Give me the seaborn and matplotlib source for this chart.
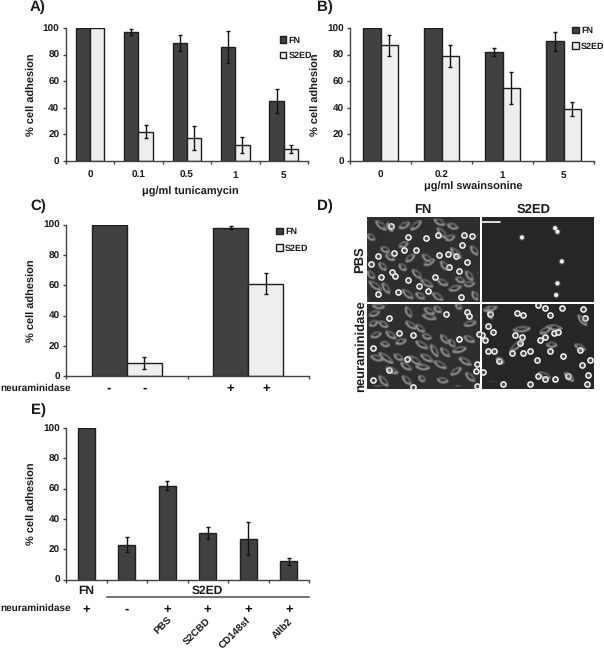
import numpy as np
import pandas as pd
import seaborn as sns
import matplotlib
matplotlib.use("Agg")
import matplotlib.pyplot as plt
from matplotlib.collections import PolyCollection, LineCollection
from matplotlib.patches import Patch

sns.set_theme(style="white")
plt.rcParams['font.family'] = ['Liberation Sans', 'DejaVu Sans']
plt.rcParams['font.weight'] = 'bold'
plt.rcParams['axes.labelweight'] = 'bold'
plt.rcParams['text.hinting'] = 'no_hinting'
plt.rcParams['text.hinting_factor'] = 1

W, H = 604, 650
DARK = '#414141'
LIGHT = '#eeeeee'
EDGE = '#1e1e1e'
AXC = '#444444'
series_names = ['FN', 'S2ED']

# Panel A
a_cats = ['0', '0.1', '0.5', '1', '5']
a_fn = [100, 97, 89, 86, 45]
a_fn_err = [0, 2, 6, 12, 9]
a_s2 = [100, 22, 17, 12, 9]
a_s2_err = [0, 5, 9, 6, 3]
# Panel B
b_cats = ['0', '0.2', '1', '5']
b_fn = [100, 100, 82, 90]
b_fn_err = [0, 0, 3, 7]
b_s2 = [87, 79, 55, 39]
b_s2_err = [8, 8, 12, 5]
# Panel C
c_cats = ['no', 'yes']
c_signs = ['-', '-', '+', '+']
c_fn = [100, 98]
c_fn_err = [0, 1]
c_s2 = [9, 61]
c_s2_err = [4, 7]
# Panel E
e_cats = ['FN', 'none', 'PBS', 'S2CBD', 'CD148sf', 'AIIb2']
e_signs = ['+', '-', '+', '+', '+', '+']
e_vals = [100, 23, 62, 31, 27, 12]
e_errs = [0, 5, 3, 4, 11, 2]
e_names = ['PBS', 'S2CBD', 'CD148sf', 'AIIb2']
yticks_vals = [0, 20, 40, 60, 80, 100]

# Panel D: cells
d1_rings = [(180,70),(125,68),(85,115),(35,125),(15,148),(78,172),(88,182),(125,195),(158,212),(185,228),(95,232),(35,237),(208,185),(150,105),(220,120),(270,125),(250,158),(278,168),(303,143),(287,90),(295,60),(318,65),(285,245),(245,118),(115,105),(75,35),(215,60),(45,185)]
d1_streaks = [(30,20,60,45),(65,25,80,50),(100,40,130,25),(135,45,165,20),(205,15,235,30),(215,40,240,70),(245,30,275,40),(240,75,265,65),(100,95,125,85),(5,60,25,75),(60,120,85,135),(120,140,145,120),(170,120,195,140),(175,150,205,135),(225,140,245,165),(215,195,245,210),(255,100,285,130),(315,95,335,120),(300,170,320,195),(295,210,325,205),(10,200,45,225),(50,205,70,235),(110,225,140,250),(165,195,200,215),(200,235,230,255),(250,225,285,215),(5,170,25,190),(140,165,165,190),(100,150,120,165),(320,230,335,255),(45,100,70,110),(150,235,175,250),(270,190,295,200),(40,145,60,165)]
d2_rings = [(70,47),(240,37),(303,30),(310,42),(280,113),(140,100),(20,140),(122,172),(70,205),(20,238),(332,188),(330,210),(333,255),(140,258),(100,95),(340,97)]
d2_streaks = [(20,10,55,15),(10,40,40,30),(10,70,35,60),(40,60,65,75),(60,90,90,110),(120,15,135,45),(170,40,210,50),(175,20,205,35),(270,5,285,20),(120,60,150,80),(150,70,175,90),(205,15,225,30),(90,125,120,115),(150,120,185,140),(195,130,215,165),(225,100,245,125),(250,115,265,135),(225,140,250,165),(260,150,300,140),(295,70,330,60),(295,105,325,120),(15,165,50,175),(40,155,80,185),(60,200,95,215),(105,185,135,205),(130,165,165,190),(165,160,200,180),(150,195,190,200),(110,225,135,250),(40,225,65,255),(215,235,245,240),(160,225,175,240),(280,170,315,190),(300,215,325,240),(255,220,285,200),(85,160,110,175),(205,180,240,200),(15,105,45,95),(170,100,195,110),(45,125,70,130)]
d3_rings = [(545,143),(645,115),(652,126),(665,215),(652,281),(648,316)]
d4_rings = [(25,72),(40,90),(5,100),(15,115),(25,150),(42,150),(110,32),(128,38),(30,35),(105,100),(125,105),(120,125),(95,155),(130,155),(150,150),(180,115),(195,105),(222,95),(235,92),(210,150),(250,165),(300,145),(305,190),(330,175),(325,220),(322,248),(310,20),(245,17),(210,40),(175,10),(195,18),(172,175),(10,212),(58,180),(70,250),(175,225),(225,235),(195,235),(265,225),(150,250),(315,50)]
d4_streaks = [(100,85,150,80),(90,150,130,115),(180,95,215,75),(200,75,245,80),(200,130,230,130),(285,130,315,145),(175,215,210,230),(255,215,280,240),(10,25,50,15),(25,15,35,50),(295,40,320,70),(50,170,70,185)]


def frame(cats, **series):
    rows = []
    for name, vals in series.items():
        rows += [{'cat': c, 'series': name, 'value': v} for c, v in zip(cats, vals)]
    return pd.DataFrame(rows)


fig = plt.figure(figsize=(W / 100, H / 100), dpi=100, facecolor='white')


def px_axes(x0, y0, x1, y1):
    return fig.add_axes([x0 / W, 1 - y1 / H, (x1 - x0) / W, (y1 - y0) / H])


def ftext(x, y, s, size=7.5, **kw):
    kw.setdefault('ha', 'center')
    kw.setdefault('va', 'center')
    return fig.text(x / W, 1 - y / H, s, fontsize=size, fontweight='bold', color='#1a1a1a', **kw)


def style(ax, ncat):
    sns.despine(ax=ax)
    for s in ('left', 'bottom'):
        ax.spines[s].set_color(AXC)
        ax.spines[s].set_linewidth(1.0)
    ax.set_ylim(0, 100)
    ax.set_xlim(-0.5, ncat - 0.5)
    ax.set_yticks(yticks_vals)
    ax.set_xticks(np.arange(ncat + 1) - 0.5)
    ax.set_xticklabels([])
    ax.tick_params(axis='both', which='major', length=2.5, width=1, color=AXC, left=True, bottom=True,
                   labelsize=7.3, pad=2, labelcolor='#1a1a1a')
    ax.set_ylabel('% cell adhesion', fontsize=7.6, color='#1a1a1a')
    bb = ax.get_position()
    ax.yaxis.set_label_coords(-28.5 / (bb.width * W), 0.5)
    ax.set_xlabel('')


def add_err(ax, container, errs):
    for bar, e in zip(container, errs):
        if e > 0:
            ax.errorbar(bar.get_x() + bar.get_width() / 2, bar.get_height(), yerr=e, color='#111111',
                        elinewidth=1, capsize=1.5, capthick=1, zorder=5)


def grouped(box, cats, fn, fne, s2, s2e, width):
    ax = px_axes(*box)
    df = frame(cats, FN=fn, S2ED=s2)
    sns.barplot(data=df, x='cat', y='value', hue='series', hue_order=series_names,
                palette=[DARK, LIGHT], width=width, gap=0, errorbar=None, legend=False,
                edgecolor=EDGE, linewidth=1, ax=ax)
    style(ax, len(cats))
    add_err(ax, ax.containers[0], fne)
    add_err(ax, ax.containers[1], s2e)
    return ax


def legend(ax, x, y, spacing):
    h = [Patch(facecolor=DARK, edgecolor=EDGE, label='FN'), Patch(facecolor=LIGHT, edgecolor=EDGE, label='S2ED')]
    ax.legend(handles=h, loc='upper left', bbox_to_anchor=(x / W, 1 - y / H), bbox_transform=fig.transFigure,
              frameon=False, handlelength=0.75, handleheight=0.75, handletextpad=0.25, labelspacing=spacing,
              borderpad=0, borderaxespad=0, prop={'size': 6.6, 'weight': 'bold'}, labelcolor='#1a1a1a')


# A
axA = grouped((65.7, 28, 308, 161), a_cats, a_fn, a_fn_err, a_s2, a_s2_err, 0.59)
legend(axA, 279.5, 36, 0.78)
for i, c in enumerate(a_cats):
    axA.annotate(c, (i, 0), xytext=(0, -14), textcoords='offset pixels',
                 ha='center', va='center', fontsize=7.3, fontweight='bold', color='#1a1a1a')
ftext(190, 192, 'μg/ml tunicamycin', 7.8)
ftext(38, 7, 'A)', 11)

# B
axB = grouped((350, 28, 594, 161), b_cats, b_fn, b_fn_err, b_s2, b_s2_err, 0.59)
legend(axB, 572, 26.5, 0.78)
for i, c in enumerate(b_cats):
    axB.annotate(c, (i, 0), xytext=(0, -14), textcoords='offset pixels',
                 ha='center', va='center', fontsize=7.3, fontweight='bold', color='#1a1a1a')
ftext(473, 187, 'μg/ml swainsonine', 7.8)
ftext(325, 7, 'B)', 11)

# C
axC = grouped((66, 224.7, 309, 376.3), c_cats, c_fn, c_fn_err, c_s2, c_s2_err, 0.58)
legend(axC, 276, 227.5, 0.9)
ftext(38, 206, 'C)', 11)
ftext(0, 388, 'neuraminidase', 7.5, ha='left')
bars_c = list(axC.containers[0]) + list(axC.containers[1])
for bar, s in zip(sorted(bars_c, key=lambda b: b.get_x()), c_signs):
    axC.annotate(s, (bar.get_x() + bar.get_width() / 2, 0), xytext=(0, -12), textcoords='offset pixels',
                 ha='center', va='center', fontsize=9.5, fontweight='bold', color='#111111')

# E
axE = px_axes(66, 428, 309, 579.7)
sns.barplot(x=e_cats, y=e_vals, color=DARK, saturation=1, width=0.41, errorbar=None,
            edgecolor=EDGE, linewidth=1, ax=axE)
style(axE, len(e_cats))
add_err(axE, axE.containers[0], e_errs)
ftext(38, 410, 'E)', 11)
ftext(86.5, 590.5, 'FN', 8.6)
ftext(207, 590.5, 'S2ED', 8.6)
fig.add_artist(plt.Line2D([107 / W, 309 / W], [1 - 597 / H] * 2, color='#777777', lw=1.5))
ftext(0, 608, 'neuraminidase', 7.5, ha='left')
for i, s in enumerate(e_signs):
    axE.annotate(s, (i, 0), xytext=(0, -30), textcoords='offset pixels',
                 ha='center', va='center', fontsize=9.5, fontweight='bold', color='#111111')
for (x, y), s in zip([(164, 626), (198, 632), (235, 633), (283, 628)], e_names):
    ftext(x, y, s, 7.5, rotation=45)


def soften(img, dpi):
    out = img.copy()
    for axis in (0, 1):
        out = (np.roll(out, 1, axis) + 2 * out + np.roll(out, -1, axis)) / 4
    return out, 0, 0


def spindles(streaks, half=6):
    bodies, bright, dim = [], [], []
    t = np.linspace(0, 1, 9)
    for a, b, c, d in streaks:
        dx, dy = c - a, d - b
        n = np.hypot(dx, dy)
        px, py = -dy / n * half, dx / n * half
        bow = np.sin(np.pi * t)
        xs, ys = a + dx * t, b + dy * t
        up = np.column_stack([xs + px * bow, ys + py * bow])
        down = np.column_stack([xs - px * bow, ys - py * bow])
        bodies.append(np.vstack([up, down[::-1]]))
        bright.append(up)
        dim.append(down)
    return bodies, bright, dim


# D
def micro(box, xlim, ylim, rings, streaks, bright=False, bg='#2e2e2e'):
    ax = px_axes(*box)
    ax.set_facecolor(bg)
    if streaks:
        bodies, up, down = spindles(streaks)
        for art in (PolyCollection(bodies, facecolors='#141414', edgecolors='none'),
                    LineCollection(down, colors='#5e5e5e', linewidths=0.7),
                    LineCollection(up, colors='#c4c4c4', linewidths=0.8)):
            art.set_agg_filter(soften)
            ax.add_collection(art)
    rx, ry = zip(*rings)
    if bright:
        sns.scatterplot(x=list(rx), y=list(ry), s=22, color='#4a4a4a', edgecolor='none', legend=False, ax=ax)
        sns.scatterplot(x=list(rx), y=list(ry), s=9, color='#f6f6f6', edgecolor='none', legend=False, ax=ax)
    else:
        sns.scatterplot(x=list(rx), y=list(ry), s=14, color='#4e4e4e', edgecolor='#f4f4f4', linewidth=1.1,
                        legend=False, ax=ax)
    ax.set_xlim(*xlim)
    ax.set_ylim(*ylim)
    ax.set_xticks([])
    ax.set_yticks([])
    ax.set_xlabel('')
    ax.set_ylabel('')
    for s in ax.spines.values():
        s.set_visible(False)
    return ax


micro((367, 216.5, 480, 302), (3, 342), (261, 6), d1_rings, d1_streaks)
micro((481.5, 216.5, 594, 302), (423, 762), (337, 80), d3_rings, [], bright=True, bg='#262626')
micro((367, 304, 480, 389), (3, 342), (264, 6), d2_rings, d2_streaks)
micro((481.5, 304, 594, 389), (4, 342), (264, 6), d4_rings, d4_streaks, bg='#262626')
fig.add_artist(plt.Line2D([481.5 / W, 500 / W], [1 - 221.7 / H] * 2, color='white', lw=1.2))
ftext(423, 210, 'FN', 9.4)
ftext(534, 210, 'S2ED', 9.4)
ftext(360, 260, 'PBS', 9.4, rotation=90)
ftext(361, 346, 'neuraminidase', 9.4, rotation=90)
ftext(325, 206, 'D)', 11)

fig.savefig('out.png', dpi=100, facecolor='white')
